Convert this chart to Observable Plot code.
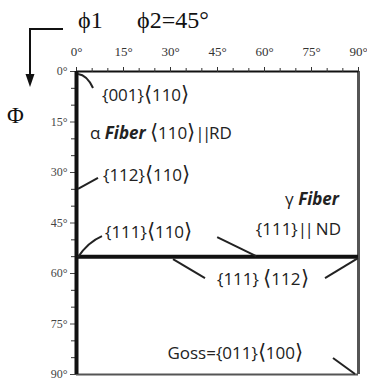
<!DOCTYPE html>
<html>
<head>
<meta charset="utf-8">
<script src="https://cdn.jsdelivr.net/npm/d3@7"></script>
<script src="https://cdn.jsdelivr.net/npm/@observablehq/plot@0.6"></script>
<style>
  body { margin: 0; background: #fff; }
  #chart svg { display: block; }
</style>
</head>
<body>
<div id="chart"></div>
<script>
// ODF section at phi2 = 45°: Euler angles phi1 (across) and Phi (down)
const phi1Ticks = [0, 15, 30, 45, 60, 75, 90];
const phiTicks = [0, 15, 30, 45, 60, 75, 90];
const minorTicks = [5, 10, 20, 25, 35, 40, 50, 55, 65, 70, 80, 85];

// Fibers: alpha fiber runs along phi1 = 0, gamma fiber along Phi ≈ 55°
const alphaFiberPhi1 = [0];
const gammaFiberPhi = [55];

// Ideal texture components (phi1, Phi) with their Miller indices
const componentNames = ["{001}⟨110⟩", "{112}⟨110⟩", "{111}⟨110⟩", "{111} ⟨112⟩", "{111} ⟨112⟩", "Goss={011}⟨100⟩"];
const componentPhi1 = [0, 0, 0, 30, 90, 90];
const componentPhi = [0, 35, 55, 55, 55, 90];
const gammaLeaderPhi1 = 57.5;

const components = componentNames.map((name, i) => ({name, phi1: componentPhi1[i], phi: componentPhi[i]}));

// Label layout: leader path (pixel offsets from the component) and text placement
const layout = [
  {leader: "M2,3 Q11,4 17,17", text: [26, 30], anchor: "start"},
  {leader: "M2,0 L22,-11", text: [27, -8], anchor: "start"},
  {leader: "M2,1 Q12,-14 26,-20", text: [29, -18], anchor: "start"},
  {leader: "M3,3 L35,22", text: [47, 29], anchor: "start"},
  {leader: "M0,2 L-33,22", text: null},
  {leader: "M-3,0 L-25,-16", text: [-55, -15], anchor: "end"}
];

const ANN_FONT = "'Open Sans', sans-serif";
const BRACKET_FONT = "'DejaVu Sans', sans-serif";
const SERIF = "'Liberation Serif', 'Times New Roman', serif";

// Write a label into a <text>, setting angle brackets and double bars in their own runs
function fillLabel(sel, str) {
  const runs = str.split(/([⟨⟩]|\|\|)/).filter(s => s !== "");
  for (const r of runs) {
    const ts = sel.append("tspan").text(r);
    if (r === "⟨" || r === "⟩") ts.attr("font-family", BRACKET_FONT).attr("font-size", 21).attr("font-weight", 300);
    if (r === "||") ts.attr("letter-spacing", -2.5);
  }
  return sel;
}

function annText(g, x, y, anchor) {
  return g.append("text").attr("x", x).attr("y", y).attr("text-anchor", anchor)
    .attr("font-family", ANN_FONT).attr("font-size", 17).attr("fill", "#222");
}

function annotations(index, scales) {
  const {x, y} = scales;
  const g = d3.create("svg:g");

  // header: phi1 / phi2 label and the bent arrow pointing down the Phi axis
  g.append("text").attr("x", 78).attr("y", 28).attr("text-anchor", "start").attr("font-family", SERIF)
    .attr("font-size", 24).attr("fill", "#111").text("ϕ1");
  g.append("text").attr("x", 137).attr("y", 28).attr("text-anchor", "start").attr("font-family", SERIF)
    .attr("font-size", 24).attr("fill", "#111").text("ϕ2=45°");
  g.append("path").attr("d", "M63,29 H30 V76").attr("fill", "none")
    .attr("stroke", "#111").attr("stroke-width", 2);
  g.append("path").attr("d", "M25.5,74 L34.5,74 L30,87 Z").attr("fill", "#111");
  g.append("text").attr("x", 7).attr("y", 123).attr("text-anchor", "start").attr("font-family", SERIF)
    .attr("font-size", 23).attr("fill", "#111").text("Φ");

  // component leaders and labels
  components.forEach((c, i) => {
    const px = x(c.phi1), py = y(c.phi);
    const L = layout[i];
    g.append("path").attr("transform", `translate(${px},${py})`).attr("d", L.leader)
      .attr("fill", "none").attr("stroke", "#222").attr("stroke-width", 2);
    if (L.text) fillLabel(annText(g, px + L.text[0], py + L.text[1], L.anchor), c.name);
  });

  // alpha fiber label
  const a = annText(g, x(alphaFiberPhi1[0]) + 14, y(0) + 68, "start");
  a.append("tspan").text("α ");
  a.append("tspan").attr("font-weight", "bold").attr("font-style", "italic").text("Fiber");
  a.append("tspan").text(" ");
  fillLabel(a, "⟨110⟩||RD");

  // gamma fiber label and leader
  const gx = x(90), gy = y(gammaFiberPhi[0]);
  const t = annText(g, gx - 19, gy - 51, "end");
  t.append("tspan").text("γ ");
  t.append("tspan").attr("font-weight", "bold").attr("font-style", "italic").text("Fiber");
  fillLabel(annText(g, gx - 17, gy - 21, "end"), "{111}|| ND");
  const lx = x(gammaLeaderPhi1);
  g.append("path").attr("d", `M${lx - 39},${gy - 19} L${lx},${gy}`)
    .attr("fill", "none").attr("stroke", "#222").attr("stroke-width", 2);

  return g.node();
}

const plot = Plot.plot({
  width: 367,
  height: 378,
  marginTop: 71,
  marginLeft: 76,
  marginRight: 9,
  marginBottom: 4,
  style: {background: "#fff", overflow: "visible"},
  x: {domain: [0, 90]},
  y: {domain: [0, 90], range: [71, 374]},
  marks: [
    // frame: top and left in black, right and bottom in grey
    Plot.ruleX([90], {stroke: "#555", strokeWidth: 3}),
    Plot.ruleY([90], {stroke: "#555", strokeWidth: 2}),
    Plot.ruleY([0], {stroke: "#111", strokeWidth: 2}),
    // axes
    Plot.axisX(phi1Ticks, {anchor: "top", tickSize: 5, tickPadding: 11, label: null,
      tickFormat: d => d + "°", fontFamily: SERIF, fontSize: 13, color: "#333"}),
    Plot.axisX(minorTicks, {anchor: "top", tickSize: 4, label: null, tickFormat: () => "", color: "#333"}),
    Plot.axisY(phiTicks, {anchor: "left", tickSize: 6, tickPadding: 3, label: null,
      tickFormat: d => d + "°", fontFamily: SERIF, fontSize: 12, color: "#444"}),
    Plot.axisY(minorTicks, {anchor: "left", tickSize: 5, label: null, tickFormat: () => "", color: "#333"}),
    // fibers
    Plot.ruleX(alphaFiberPhi1, {x: d => d, stroke: "#111", strokeWidth: 4}),
    Plot.ruleY(gammaFiberPhi, {y: d => d, stroke: "#111", strokeWidth: 4}),
    annotations
  ]
});

document.getElementById("chart").append(plot);
</script>
</body>
</html>
